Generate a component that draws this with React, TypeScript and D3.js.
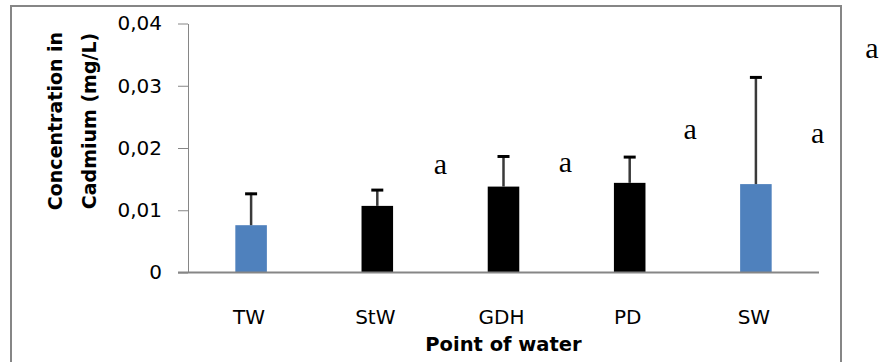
import React, { useRef, useEffect } from 'react';
import * as d3 from 'd3';

// sampling points and mean cadmium concentration (mg/L)
const categories = ['TW', 'StW', 'GDH', 'PD', 'SW'];
const means = [0.0076, 0.0107, 0.0138, 0.0144, 0.0142];
const errors = [0.0052, 0.0027, 0.005, 0.0043, 0.0173];
const barColors = ['#4F81BD', '#000000', '#000000', '#000000', '#4F81BD'];
const yTicks = [0, 0.01, 0.02, 0.03, 0.04];

// significance letters, placed in category units and data units
const letters = ['a', 'a', 'a', 'a', 'a'];
const letterPos = [1.5, 2.49, 3.48, 4.49, 4.92];
const letterValues = [0.0158, 0.0161, 0.0214, 0.0208, 0.0345];

const width = 880;
const height = 362;
const plot = { left: 188, right: 819, top: 23.5, bottom: 272.5 };
const sans = '"DejaVu Sans", sans-serif';

const App: React.FC = () => {
  const svgRef = useRef<SVGSVGElement>(null);

  useEffect(() => {
    if (!svgRef.current) return;
    const svg = d3.select(svgRef.current);
    svg.selectAll('*').remove();

    const x = d3.scaleBand<string>()
      .domain(categories)
      .range([plot.left, plot.right])
      .padding(0);

    const y = d3.scaleLinear()
      .domain([0, 0.04])
      .range([plot.bottom, plot.top]);

    const locale = d3.formatLocale({ decimal: ',', thousands: '.', grouping: [3], currency: ['', ''] });
    const fmt = locale.format('.2f');

    // outer chart frame
    svg.append('rect')
      .attr('x', 11)
      .attr('y', 6)
      .attr('width', 830)
      .attr('height', 400)
      .attr('fill', '#fff')
      .attr('stroke', '#868686')
      .attr('stroke-width', 2);

    // Y axis
    const yAxis = svg.append('g')
      .attr('transform', `translate(${plot.left},0)`)
      .call(d3.axisLeft(y).tickValues(yTicks).tickSize(10).tickSizeOuter(0).tickPadding(16)
        .tickFormat(d => (+d === 0 ? '0' : fmt(+d))));
    yAxis.select('.domain').attr('stroke', '#868686');
    yAxis.selectAll('.tick line').attr('stroke', '#868686');
    yAxis.selectAll('text')
      .attr('font-family', sans)
      .attr('font-size', '20px')
      .attr('fill', '#000');

    // bars
    const step = x.step();
    const barW = x.bandwidth() * 0.25;
    categories.forEach((c, i) => {
      const cx = (x(c) || 0) + x.bandwidth() / 2;
      svg.append('rect')
        .attr('x', cx - barW / 2)
        .attr('y', y(means[i]))
        .attr('width', barW)
        .attr('height', y(0) - y(means[i]))
        .attr('fill', barColors[i]);

      // error bar (upper only)
      const top = y(means[i] + errors[i]);
      svg.append('line')
        .attr('x1', cx).attr('x2', cx)
        .attr('y1', y(means[i])).attr('y2', top)
        .attr('stroke', '#3a3a3a')
        .attr('stroke-width', 2.5);
      svg.append('line')
        .attr('x1', cx - 6).attr('x2', cx + 6)
        .attr('y1', top + 1).attr('y2', top + 1)
        .attr('stroke', '#000')
        .attr('stroke-width', 3);
    });

    // X axis line
    svg.append('line')
      .attr('x1', plot.left - 10)
      .attr('x2', plot.right)
      .attr('y1', y(0))
      .attr('y2', y(0))
      .attr('stroke', '#868686')
      .attr('stroke-width', 2);

    // category labels
    svg.append('g')
      .selectAll('text')
      .data(categories)
      .join('text')
      .attr('x', d => (x(d) || 0) + x.bandwidth() / 2 - 2)
      .attr('y', 324)
      .attr('text-anchor', 'middle')
      .attr('font-family', sans)
      .attr('font-size', '20px')
      .attr('fill', '#000')
      .text(d => d);

    // letters
    const x0 = (x(categories[0]) || 0) + x.bandwidth() / 2;
    letters.forEach((l, i) => {
      svg.append('text')
        .attr('x', x0 + letterPos[i] * step)
        .attr('y', y(letterValues[i]))
        .attr('text-anchor', 'middle')
        .attr('font-family', '"Liberation Serif", serif')
        .attr('font-size', '30px')
        .attr('fill', '#000')
        .text(l);
    });

    // axis titles
    svg.append('text')
      .attr('x', (plot.left + plot.right) / 2)
      .attr('y', 351)
      .attr('text-anchor', 'middle')
      .attr('font-family', sans)
      .attr('font-weight', 'bold')
      .attr('font-size', '19.5px')
      .attr('fill', '#000')
      .text('Point of water');

    const yTitle = svg.append('text')
      .attr('transform', 'translate(62,121) rotate(-90)')
      .attr('text-anchor', 'middle')
      .attr('font-family', sans)
      .attr('font-weight', 'bold')
      .attr('font-size', '19px')
      .attr('fill', '#000');
    yTitle.append('tspan').attr('x', 0).attr('y', 0).text('Concentration in');
    yTitle.append('tspan').attr('x', 0).attr('y', 34).text('Cadmium (mg/L)');
  }, []);

  return (
    <svg
      ref={svgRef}
      width={width}
      height={height}
      style={{ position: 'absolute', left: 0, top: 0, background: '#fff' }}
    />
  );
};

export default App;
